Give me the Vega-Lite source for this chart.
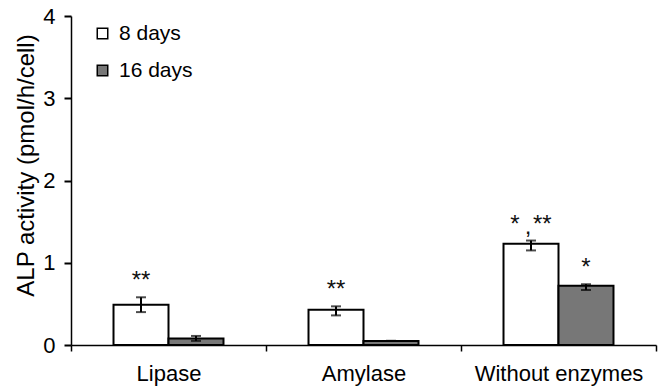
{
  "$schema": "https://vega.github.io/schema/vega-lite/v6.json",
  "width": 585,
  "height": 329,
  "autosize": "none",
  "padding": {"left": 71, "top": 16, "right": 2, "bottom": 45},
  "background": "white",
  "config": {
    "view": {"stroke": null},
    "font": "Liberation Sans",
    "axis": {"domainColor": "#000", "domainWidth": 1.5, "ticks": true, "tickColor": "#000", "tickWidth": 1.5, "labelColor": "#000", "titleColor": "#000", "grid": false, "labelFont": "Liberation Sans", "titleFont": "Liberation Sans"},
    "legend": {"labelFont": "Liberation Sans"}
  },
  "data": {
    "values": [
      {"category": "Lipase", "period": "8 days", "mean": 0.49, "lo": 0.40, "hi": 0.58, "stars": "**", "note": ""},
      {"category": "Lipase", "period": "16 days", "mean": 0.08, "lo": 0.05, "hi": 0.11, "stars": "", "note": ""},
      {"category": "Amylase", "period": "8 days", "mean": 0.43, "lo": 0.36, "hi": 0.47, "stars": "**", "note": ""},
      {"category": "Amylase", "period": "16 days", "mean": 0.05, "lo": 0.05, "hi": 0.05, "stars": "", "note": ""},
      {"category": "Without enzymes", "period": "8 days", "mean": 1.23, "lo": 1.15, "hi": 1.27, "stars": "\u00a0*\u00a0\u00a0**", "note": ","},
      {"category": "Without enzymes", "period": "16 days", "mean": 0.72, "lo": 0.67, "hi": 0.74, "stars": "*", "note": ""}
    ]
  },
  "encoding": {
    "x": {
      "field": "category", "type": "nominal",
      "sort": ["Lipase", "Amylase", "Without enzymes"],
      "scale": {"paddingInner": 0, "paddingOuter": 0},
      "axis": {"title": null, "labelAngle": 0, "labelFontSize": 22, "ticks": true, "tickBand": "extent", "tickSize": 6, "labelPadding": 12, "domainWidth": 1.5}
    },
    "xOffset": {"field": "period", "type": "nominal", "sort": ["8 days", "16 days"], "scale": {"paddingInner": 0, "paddingOuter": 0.773}},
    "y": {"field": "mean", "type": "quantitative", "scale": {"domain": [0, 4], "nice": false},
      "axis": {"values": [0, 1, 2, 3, 4], "format": "d", "title": "ALP activity (pmol/h/cell)", "titleFontSize": 24, "titleFontWeight": "normal", "titleX": -33, "titleY": 149, "labelFontSize": 22, "ticks": true, "tickSize": 7, "tickWidth": 2, "tickColor": "#000", "labelPadding": 9}}
  },
  "layer": [
    {
      "mark": {"type": "bar", "stroke": "#000", "strokeWidth": 2},
      "encoding": {
        "fill": {"field": "period", "type": "nominal", "sort": ["8 days", "16 days"],
          "scale": {"domain": ["8 days", "16 days"], "range": ["#ffffff", "#777777"]},
          "legend": {"title": null, "orient": "none", "legendX": 21, "legendY": 7, "symbolType": "square", "symbolSize": 110, "symbolStrokeColor": "#000", "symbolStrokeWidth": 1.5, "labelFontSize": 21, "labelOffset": 6, "rowPadding": 15, "padding": 0, "labelColor": "#000"}}
      }
    },
    {
      "mark": {"type": "rule", "color": "#000", "strokeWidth": 2},
      "encoding": {"y": {"field": "lo", "type": "quantitative"}, "y2": {"field": "hi"}}
    },
    {
      "mark": {"type": "tick", "color": "#000", "size": 10, "thickness": 2},
      "encoding": {"y": {"field": "lo", "type": "quantitative"}}
    },
    {
      "mark": {"type": "tick", "color": "#000", "size": 10, "thickness": 2},
      "encoding": {"y": {"field": "hi", "type": "quantitative"}}
    },
    {
      "mark": {"type": "text", "baseline": "alphabetic", "fontSize": 24, "dy": -9, "color": "#111"},
      "encoding": {"y": {"field": "hi", "type": "quantitative"}, "text": {"field": "stars"}}
    },
    {
      "mark": {"type": "text", "baseline": "alphabetic", "fontSize": 24, "dy": -7, "dx": -3, "color": "#111"},
      "encoding": {"y": {"field": "hi", "type": "quantitative"}, "text": {"field": "note"}}
    }
  ]
}
